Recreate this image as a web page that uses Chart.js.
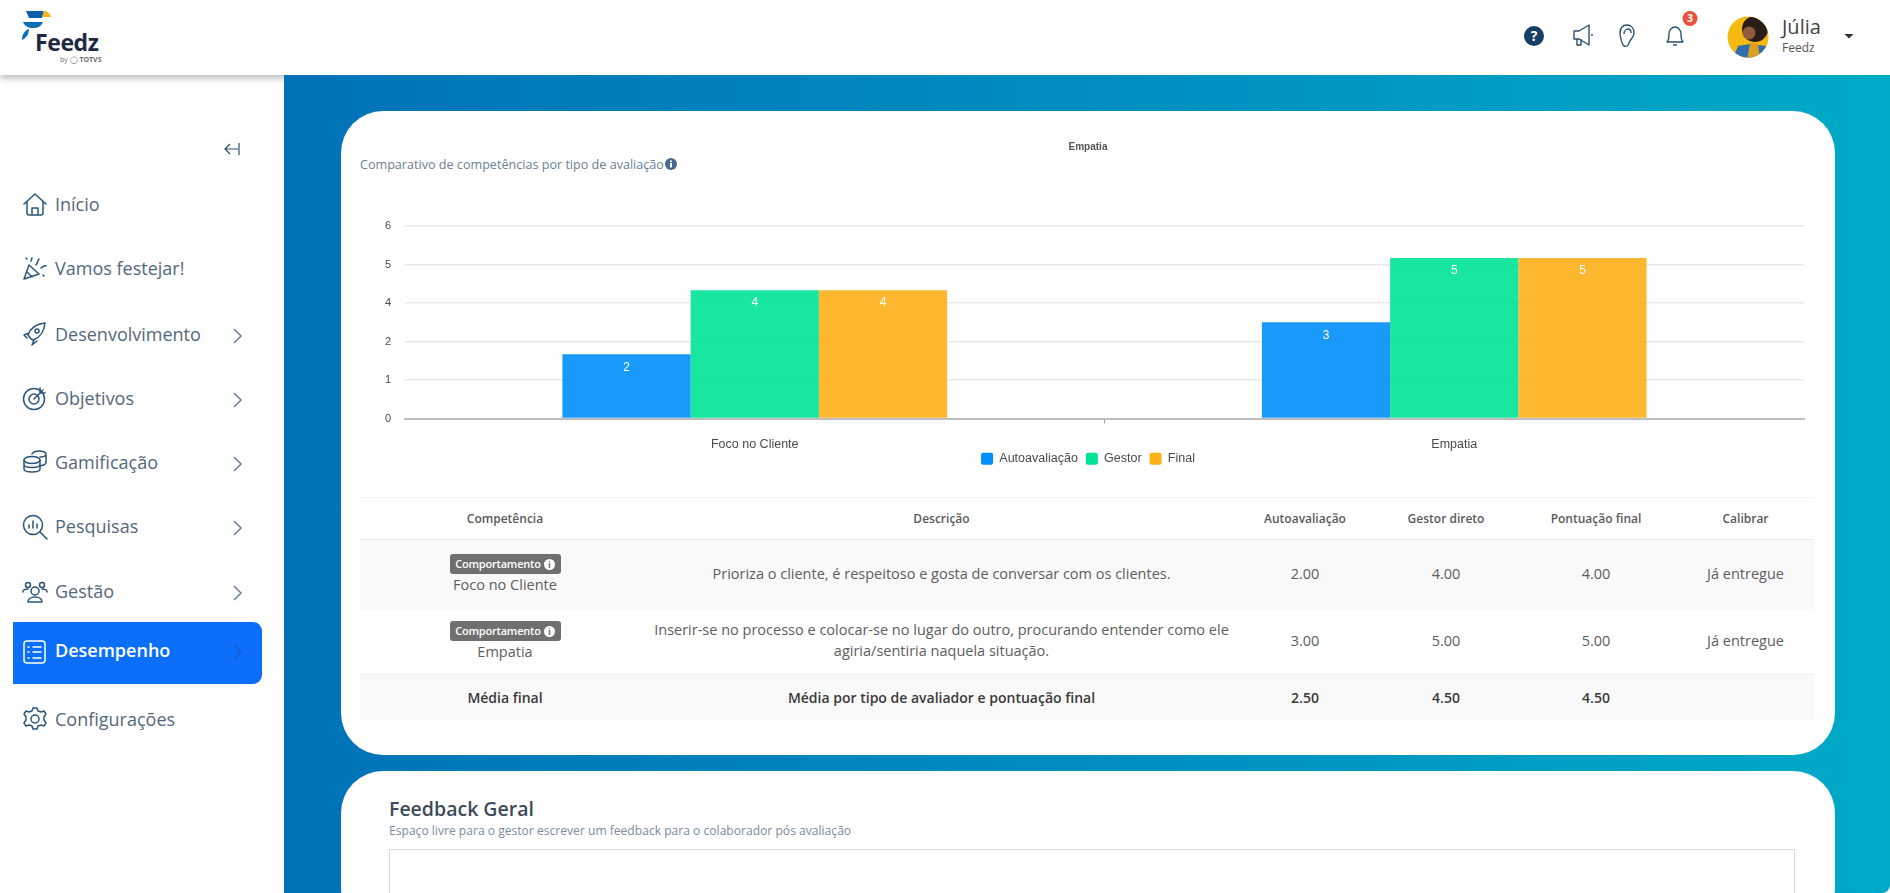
<!DOCTYPE html>
<html lang="pt-BR">
<head>
<meta charset="utf-8">
<title>Feedz - Desempenho</title>
<script src="https://cdn.jsdelivr.net/npm/chart.js@4"></script>
<style>
html, body { margin: 0; padding: 0; width: 1890px; height: 893px; overflow: hidden; background: #fff; font-family: 'Open Sans', sans-serif; }
.abs { position: absolute; }
#sidebar { position: absolute; left: 0; top: 0; width: 284px; height: 893px; background: #fff; z-index: 1; }
#header { position: absolute; left: 0; top: 0; width: 1890px; height: 75px; background: #fff; box-shadow: 0 3px 7px rgba(0,0,0,.28); z-index: 2; }
#main { position: absolute; left: 284px; top: 75px; width: 1606px; height: 818px; background: linear-gradient(90deg, #0072b8 0%, #00aac7 100%); border-bottom-right-radius: 8px; z-index: 3; overflow: hidden; }
.card { position: absolute; left: 341px; width: 1494px; background: #fff; border-radius: 42px; z-index: 4; }
.nav { position: absolute; left: 55px; font-size: 18px; line-height: 24px; color: #52687c; white-space: nowrap; z-index: 3; }
.ico { position: absolute; left: 22px; width: 26px; height: 26px; fill: none; stroke: #2b5578; stroke-width: 1.5; z-index: 3; stroke-linecap: round; stroke-linejoin: round; }
.chev { position: absolute; left: 232px; width: 10px; height: 16px; fill: none; stroke: #6a7f92; stroke-width: 1.5; z-index: 3; }
#active { position: absolute; left: 13px; top: 622px; width: 249px; height: 62px; background: #0b6ffb; border-radius: 0 9px 9px 0; z-index: 2; }
#tb { position: absolute; left: 360px; top: 497px; width: 1454px; border-collapse: collapse; table-layout: fixed; z-index: 5; text-align: center; color: #5d5d5d; font-size: 14.500px; line-height: 21px; }
#tb td, #tb th { padding: 0; vertical-align: middle; }
#tb td { padding-bottom: 2px; }
#tb td.comp { padding-bottom: 0; }
#tb th { font-size: 12px; font-weight: 600; color: #5a5a5a; height: 41px; border-top: 1px solid #f3f3f3; border-bottom: 1px solid #e9e9e9; }
#tb tr.odd td { background: #f9f9f9; }
#tb tr.tot td { background: #f9f9f9; font-size: 14px; font-weight: 600; color: #3a3a3a; height: 45px; padding-bottom: 0; border-top: 1px solid #ededed; }
.badge { display: block; margin: 0 auto; width: 111px; height: 20px; line-height: 20px; background: #6f6f6f; color: #fff; border-radius: 3px; font-size: 11px; font-weight: 600; letter-spacing: -.2px; }
.badge i { display: inline-block; width: 11px; height: 11px; line-height: 11px; margin-left: 3px; border-radius: 50%; background: #fff; color: #6f6f6f; font-size: 9px; font-style: normal; font-weight: 700; }
</style>
</head>
<body>

<div id="header"></div>
<div id="sidebar"></div>
<div id="main"></div>

<!-- logo -->
<svg class="abs" style="left:20px;top:8px;z-index:5" width="36" height="36" viewBox="0 0 36 36">
  <path d="M6 3h18l-2 7H9z" fill="#0f5fa8"/>
  <path d="M24 3c4 0 6 3 7 6l-9 0z" fill="#f6b21a"/>
  <path d="M3 14h20c-2 5-6 6-10 6-5 0-8-2-10-6z" fill="#0f6fb5"/>
  <path d="M9 21c0 5-3 9-7 11 0-5 2-9 7-11z" fill="#0f6fb5"/>
</svg>
<div class="abs" style="left:35px;top:25px;font-size:23px;font-weight:700;color:#1d2a44;line-height:34px;z-index:5;letter-spacing:-.4px">Feedz</div>
<div class="abs" style="left:60px;top:54px;font-size:7px;color:#6d6d6d;line-height:12px;z-index:5">by &#9711; <b>TOTVS</b></div>

<!-- top right -->
<svg class="abs" style="left:1520px;top:8px;z-index:5" width="350" height="52" viewBox="1520 8 350 52">
  <circle cx="1534" cy="36" r="10" fill="#173f66"/>
  <text x="1534" y="41" text-anchor="middle" font-family="Open Sans" font-weight="700" font-size="14" fill="#fff">?</text>
  <g fill="none" stroke="#2b4f6e" stroke-width="1.4" stroke-linejoin="round">
    <path d="M1574 31h5l10-6v20l-10-6h-5z"/><path d="M1577 39v6h4v-6"/><path d="M1592 34v2"/>
    <path d="M1620 34c0-6 3-9 7-9s7 3 7 8c0 5-4 6-5 10-.5 3-3 4-5 3-2-1-3-6-4-12z"/><path d="M1624 34c0-3 2-5 4-5s3 2 3 4"/>
    <path d="M1667 42c2-2 2-4 2-8 0-4 3-7 6-7s6 3 6 7c0 4 0 6 2 8z"/><path d="M1673 45h4"/>
  </g>
  <circle cx="1690" cy="18.500" r="7.500" fill="#e8533a"/>
  <text x="1690" y="22" text-anchor="middle" font-family="Open Sans" font-weight="700" font-size="10" fill="#fff">3</text>
  <defs><clipPath id="av"><circle cx="1748" cy="37" r="20.500"/></clipPath></defs>
  <g clip-path="url(#av)">
    <rect x="1725" y="15" width="46" height="44" fill="#f5b90f"/>
    <circle cx="1755" cy="29" r="13" fill="#2a1d17"/>
    <circle cx="1749" cy="33" r="6.500" fill="#8f5d3e"/>
    <path d="M1732 60l6-14 12-2 16 2 2 14z" fill="#2f6fb0"/>
    <path d="M1747 60l3-17 8 0 2 17z" fill="#d9a021"/>
  </g>
  <path d="M1844.500 34h9l-4.500 4.500z" fill="#2f2f2f"/>
</svg>
<div class="abs" style="left:1782px;top:13px;font-size:20px;line-height:28px;color:#444;z-index:5">Júlia</div>
<div class="abs" style="left:1782px;top:39px;font-size:12px;line-height:18px;color:#555;z-index:5">Feedz</div>

<!-- side menu -->
<div id="active"></div>
<svg class="abs" style="left:222px;top:140px;z-index:3" width="20" height="18" fill="none" stroke="#2b4f6e" stroke-width="1.2"><path d="M16 9H3M8 4L3 9l5 5M17 3v12"/></svg>

<svg class="ico" style="top:191px" viewBox="0 0 26 26"><path d="M2 13L13 3l11 10M5 11v11c0 1 1 2 2 2h12c1 0 2-1 2-2V11M10 24v-7h6v7"/></svg>
<div class="nav" style="top:192px">Início</div>
<svg class="ico" style="top:255px" viewBox="0 0 26 26"><path d="M2 24L7 10l10 9zM5 17l5 5M9 6l1-3M14 10c2-2 1-4 3-6M19 13c2-1 3-3 5-2M21 20l1 1M4 3l1 1"/></svg>
<div class="nav" style="top:256px">Vamos festejar!</div>
<svg class="ico" style="top:321px" viewBox="0 0 26 26"><path d="M9 18l-3-4c2-6 8-11 17-12-1 9-6 15-12 17zM7 12l-5 2 3 3M12 19l-2 5 5-4"/><circle cx="15" cy="10" r="2"/></svg>
<div class="nav" style="top:322px">Desenvolvimento</div>
<svg class="chev" style="top:328px" viewBox="0 0 10 16"><path d="M2 1l7 7-7 7"/></svg>
<svg class="ico" style="top:385px" viewBox="0 0 26 26"><circle cx="12" cy="14" r="10.500"/><circle cx="12" cy="14" r="5"/><path d="M12 14l9-9M18 3v5h5"/></svg>
<div class="nav" style="top:386px">Objetivos</div>
<svg class="chev" style="top:392px" viewBox="0 0 10 16"><path d="M2 1l7 7-7 7"/></svg>
<svg class="ico" style="top:449px" viewBox="0 0 26 26"><ellipse cx="10" cy="11" rx="8" ry="3.500"/><path d="M2 11v9c0 2 4 3 8 3s8-1 8-3v-9M2 15.500c0 2 4 3 8 3s8-1 8-3M10 5c1-2 4-3 7-3s7 1 7 3v9c0 1-2 2-6 3M18 8c3 0 6-1 6-3"/></svg>
<div class="nav" style="top:450px">Gamificação</div>
<svg class="chev" style="top:456px" viewBox="0 0 10 16"><path d="M2 1l7 7-7 7"/></svg>
<svg class="ico" style="top:514px" viewBox="0 0 26 26"><circle cx="11" cy="11" r="9.500"/><path d="M18 18l7 7M7 14v-3M11 14V7M15 14v-4"/></svg>
<div class="nav" style="top:514px">Pesquisas</div>
<svg class="chev" style="top:520px" viewBox="0 0 10 16"><path d="M2 1l7 7-7 7"/></svg>
<svg class="ico" style="top:579px" viewBox="0 0 26 26"><circle cx="6" cy="6" r="2.500"/><circle cx="20" cy="6" r="2.500"/><circle cx="13" cy="12" r="4"/><path d="M6 23c0-3 3-5 7-5s7 2 7 5zM1 13c0-2 2-3 5-3M25 13c0-2-2-3-5-3"/></svg>
<div class="nav" style="top:579px">Gestão</div>
<svg class="chev" style="top:585px" viewBox="0 0 10 16"><path d="M2 1l7 7-7 7"/></svg>
<svg class="ico" style="top:639px;stroke:#fff" viewBox="0 0 26 26"><rect x="2" y="2" width="21" height="22" rx="3"/><path d="M6 8h1M11 8h8M6 13h1M11 13h8M6 19h1M11 19h8"/></svg>
<div class="nav" style="top:638px;color:#fff;font-weight:600">Desempenho</div>
<svg class="chev" style="top:644px;stroke:#1a5fc4" viewBox="0 0 10 16"><path d="M2 1l7 7-7 7"/></svg>
<svg class="ico" style="top:706px" viewBox="0 0 26 26"><circle cx="13" cy="13" r="4"/><path d="M11 2h4l1 3 3 1 3-1 2 3-2 3v3l2 3-2 3-3-1-3 1-1 3h-4l-1-3-3-1-3 1-2-3 2-3v-3L2 8l2-3 3 1 3-1z"/></svg>
<div class="nav" style="top:707px">Configurações</div>

<!-- card with chart and table -->
<div class="card" style="top:111px;height:644px"></div>
<div class="abs" style="left:360px;top:155px;font-size:12.600px;line-height:20px;color:#6b7f95;z-index:5;white-space:nowrap">Comparativo de competências por tipo de avaliação</div>
<svg class="abs" style="left:665px;top:158px;z-index:5" width="12" height="12"><circle cx="6" cy="6" r="6" fill="#48688f"/><rect x="5" y="5" width="2" height="4.500" fill="#fff"/><rect x="5" y="2.500" width="2" height="1.600" fill="#fff"/></svg>

<canvas id="chart" class="abs" style="left:360px;top:136px;z-index:5" width="1456" height="361"></canvas>

<table id="tb">
  <colgroup><col style="width:290px"><col style="width:583px"><col style="width:144px"><col style="width:138px"><col style="width:162px"><col style="width:137px"></colgroup>
  <tr><th>Competência</th><th>Descrição</th><th>Autoavaliação</th><th>Gestor direto</th><th>Pontuação final</th><th>Calibrar</th></tr>
  <tr class="odd" style="height:69px">
    <td class="comp"><span class="badge">Comportamento<i>i</i></span>Foco no Cliente</td>
    <td>Prioriza o cliente, é respeitoso e gosta de conversar com os clientes.</td>
    <td>2.00</td><td>4.00</td><td>4.00</td><td>Já entregue</td>
  </tr>
  <tr style="height:66px">
    <td class="comp"><span class="badge">Comportamento<i>i</i></span>Empatia</td>
    <td style="white-space:nowrap">Inserir-se no processo e colocar-se no lugar do outro, procurando entender como ele<br>agiria/sentiria naquela situação.</td>
    <td>3.00</td><td>5.00</td><td>5.00</td><td>Já entregue</td>
  </tr>
  <tr class="tot">
    <td>Média final</td><td>Média por tipo de avaliador e pontuação final</td>
    <td>2.50</td><td>4.50</td><td>4.50</td><td></td>
  </tr>
</table>

<!-- second card -->
<div class="card" style="top:771px;height:160px"></div>
<div class="abs" style="left:389px;top:795px;font-size:19.500px;font-weight:600;line-height:28px;color:#3d4b5a;z-index:5">Feedback Geral</div>
<div class="abs" style="left:389px;top:822px;font-size:12.100px;line-height:18px;color:#7b8ca0;z-index:5;white-space:nowrap">Espaço livre para o gestor escrever um feedback para o colaborador pós avaliação</div>
<div class="abs" style="left:389px;top:849px;width:1404px;height:80px;border:1px solid #dcdcdc;z-index:5"></div>

<script>
const categories = ['Foco no Cliente', 'Empatia'];
const autoavaliacao = [2, 3];
const gestor = [4, 5];
const finalScore = [4, 5];
const yTickLabels = ['0', '1', '2', '4', '5', '6'];
const barColors = ['rgba(0,143,251,0.9)', 'rgba(0,227,150,0.9)', 'rgba(254,176,25,0.9)'];
const legendColors = ['#008FFB', '#00E396', '#FEB019'];

const FONT = "'Liberation Sans', Arial, sans-serif";

// values inside the bars, 13px under the top edge
const barValues = {
    id: 'barValues',
    afterDatasetsDraw(chart) {
        const c = chart.ctx;
        c.save();
        c.fillStyle = '#fff';
        c.font = '12px ' + FONT;
        c.textAlign = 'center';
        c.textBaseline = 'middle';
        chart.data.datasets.forEach((ds, i) => {
            chart.getDatasetMeta(i).data.forEach((bar, j) => {
                c.fillText(String(ds.data[j]), bar.x, bar.y + 13);
            });
        });
        c.restore();
    }
};

// legend sits tight under the axis labels, closer than its padding allows
const legendUp = {
    id: 'legendUp',
    afterLayout(chart) {
        chart.legend.top -= 22;
        chart.legend.bottom -= 22;
    }
};

new Chart(document.getElementById('chart'), {
    type: 'bar',
    data: {
        labels: categories,
        datasets: [
            { label: 'Autoavaliação', data: autoavaliacao, backgroundColor: barColors[0] },
            { label: 'Gestor', data: gestor, backgroundColor: barColors[1] },
            { label: 'Final', data: finalScore, backgroundColor: barColors[2] }
        ]
    },
    plugins: [barValues, legendUp],
    options: {
        responsive: false,
        animation: false,
        devicePixelRatio: 1,
        layout: { padding: { left: 12, right: 12 } },
        datasets: { bar: { categoryPercentage: 0.55, barPercentage: 1 } },
        plugins: {
            tooltip: { enabled: false },
            title: {
                display: true,
                text: 'Empatia',
                color: '#555',
                font: { family: FONT, size: 10, weight: 'bold' },
                padding: { top: 5, bottom: 73 }
            },
            legend: {
                position: 'bottom',
                labels: {
                    color: '#4a4a4a',
                    font: { family: FONT, size: 12.5 },
                    boxWidth: 12,
                    boxHeight: 12,
                    padding: 8,
                    useBorderRadius: true,
                    borderRadius: 2,
                    generateLabels: chart => Chart.defaults.plugins.legend.labels.generateLabels(chart).map((item, i) => ({
                        ...item,
                        fillStyle: legendColors[i],
                        lineWidth: 0
                    }))
                }
            }
        },
        scales: {
            x: {
                border: { color: '#bdbdbd', width: 2 },
                grid: {
                    drawOnChartArea: false,
                    tickLength: 5,
                    tickColor: ctx => ctx.index === 1 ? '#999' : 'transparent'
                },
                ticks: { color: '#4a4a4a', font: { family: FONT, size: 12.5 }, padding: 14, maxRotation: 0 }
            },
            y: {
                min: 0,
                max: 6,
                afterFit: scale => { scale.width = 33; },
                border: { display: false },
                grid: { color: '#e9e9e9', lineWidth: 1.5, drawTicks: false },
                ticks: {
                    stepSize: 1.2,
                    color: '#4a4a4a',
                    font: { family: FONT, size: 11 },
                    padding: 14,
                    callback: (value, i) => yTickLabels[i]
                }
            }
        }
    }
});
</script>
</body>
</html>
